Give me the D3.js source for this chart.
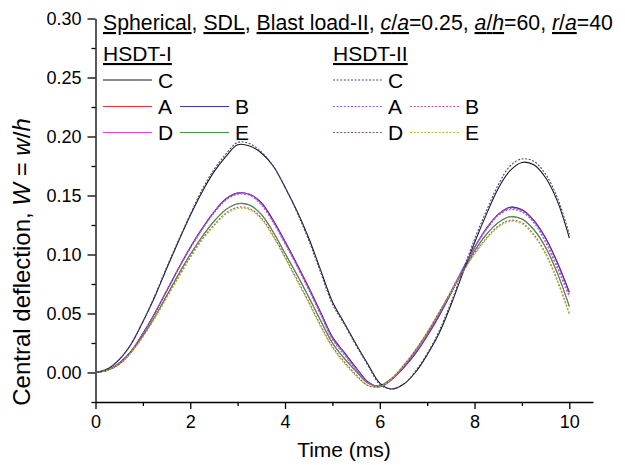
<!DOCTYPE html>
<html><head><meta charset="utf-8">
<script src="https://cdn.jsdelivr.net/npm/d3@7"></script>
<style>
body{margin:0;background:#fff}
svg{display:block}
text{font-family:"Liberation Sans",Arial,sans-serif;fill:#000}
</style></head>
<body><svg id="chart" width="625" height="465"></svg>
<script>
// ---------------- data ----------------
const time = [0,0.25,0.5,0.75,1,1.25,1.5,1.75,2,2.25,2.5,2.75,3,3.25,3.5,3.75,4,4.25,4.5,4.75,5,5.25,5.5,5.75,6,6.25,6.5,6.75,7,7.25,7.5,7.75,8,8.25,8.5,8.75,9,9.25,9.5,9.75,10];

// HSDT-I (solid)
const hsdt1_C = [0,0.003,0.011,0.024,0.043,0.064,0.088,0.111,0.133,0.153,0.170,0.183,0.193,0.192,0.186,0.175,0.157,0.137,0.114,0.087,0.060,0.042,0.024,0.007,-0.009,-0.014,-0.010,0.000,0.015,0.033,0.057,0.084,0.110,0.134,0.156,0.171,0.178,0.176,0.165,0.145,0.114];
const hsdt1_A = [0,0.002,0.008,0.018,0.033,0.050,0.069,0.088,0.106,0.122,0.136,0.147,0.152,0.151,0.144,0.129,0.111,0.092,0.072,0.051,0.030,0.017,0.004,-0.008,-0.012,-0.006,0.004,0.016,0.031,0.048,0.067,0.087,0.106,0.122,0.134,0.140,0.138,0.129,0.114,0.093,0.068];
const hsdt1_B = [0,0.002,0.008,0.018,0.033,0.050,0.069,0.088,0.106,0.122,0.136,0.147,0.152,0.151,0.144,0.129,0.111,0.092,0.072,0.051,0.030,0.017,0.004,-0.008,-0.012,-0.006,0.004,0.016,0.031,0.048,0.067,0.087,0.106,0.122,0.134,0.140,0.138,0.129,0.114,0.093,0.068];
const hsdt1_D = [0,0.002,0.007,0.017,0.031,0.047,0.065,0.083,0.100,0.115,0.128,0.138,0.143,0.142,0.134,0.119,0.101,0.083,0.064,0.044,0.025,0.012,0.001,-0.009,-0.011,-0.005,0.005,0.018,0.033,0.050,0.068,0.086,0.103,0.117,0.127,0.132,0.130,0.121,0.106,0.084,0.056];
const hsdt1_E = [0,0.002,0.007,0.017,0.031,0.047,0.065,0.083,0.100,0.115,0.128,0.138,0.143,0.142,0.134,0.119,0.101,0.083,0.064,0.044,0.025,0.012,0.001,-0.009,-0.011,-0.005,0.005,0.018,0.033,0.050,0.068,0.086,0.103,0.117,0.127,0.132,0.130,0.121,0.106,0.084,0.056];

// HSDT-II (dotted)
const hsdt2_C = [0,0.003,0.011,0.024,0.043,0.065,0.089,0.112,0.134,0.155,0.172,0.185,0.195,0.194,0.187,0.175,0.157,0.136,0.112,0.085,0.058,0.041,0.023,0.006,-0.010,-0.014,-0.010,0.001,0.016,0.035,0.059,0.086,0.113,0.137,0.159,0.175,0.181,0.179,0.168,0.148,0.117];
const hsdt2_A = [0,0.002,0.008,0.018,0.033,0.050,0.069,0.088,0.106,0.122,0.136,0.147,0.152,0.151,0.143,0.128,0.110,0.091,0.071,0.050,0.029,0.016,0.003,-0.008,-0.012,-0.006,0.005,0.017,0.032,0.049,0.068,0.088,0.106,0.122,0.134,0.139,0.137,0.128,0.112,0.090,0.066];
const hsdt2_B = [0,0.002,0.008,0.018,0.033,0.050,0.069,0.088,0.105,0.121,0.135,0.146,0.151,0.150,0.142,0.127,0.109,0.090,0.070,0.049,0.028,0.015,0.002,-0.009,-0.012,-0.006,0.005,0.018,0.033,0.050,0.069,0.088,0.106,0.121,0.133,0.138,0.136,0.127,0.110,0.088,0.064];
const hsdt2_D = [0,0.002,0.007,0.017,0.031,0.046,0.064,0.081,0.098,0.113,0.125,0.135,0.140,0.139,0.131,0.116,0.098,0.079,0.060,0.040,0.022,0.009,-0.002,-0.011,-0.012,-0.005,0.006,0.019,0.034,0.051,0.068,0.085,0.101,0.114,0.124,0.129,0.127,0.117,0.101,0.078,0.050];
const hsdt2_E = [0,0.002,0.007,0.017,0.030,0.046,0.063,0.080,0.097,0.112,0.124,0.134,0.139,0.138,0.130,0.115,0.097,0.078,0.059,0.039,0.021,0.008,-0.003,-0.011,-0.012,-0.005,0.006,0.019,0.034,0.051,0.068,0.085,0.100,0.113,0.123,0.128,0.126,0.116,0.100,0.077,0.049];

const xMajorTicks = [0,2,4,6,8,10];
const xMinorTicks = [1,3,5,7,9];
const yMajorTicks = [0,0.05,0.10,0.15,0.20,0.25,0.30];
const yMinorTicks = [-0.025,0.025,0.075,0.125,0.175,0.225,0.275];

// ---------------- styles ----------------
const style = {
  "I-C": {color:"#1a1a1a", dash:null},
  "I-A": {color:"#ff2a2a", dash:null},
  "I-B": {color:"#3535c8", dash:null},
  "I-D": {color:"#e23ee2", dash:null},
  "I-E": {color:"#3c9a3c", dash:null},
  "II-C": {color:"#44448a", dash:"2,1.6"},
  "II-A": {color:"#9a5cf0", dash:"2,1.6"},
  "II-B": {color:"#c0509c", dash:"2,1.6"},
  "II-D": {color:"#8a5858", dash:"2,1.6"},
  "II-E": {color:"#b8b830", dash:"2,1.6"}
};

const series = [
  {key:"I-A", v:hsdt1_A}, {key:"I-D", v:hsdt1_D},
  {key:"I-B", v:hsdt1_B}, {key:"I-E", v:hsdt1_E}, {key:"I-C", v:hsdt1_C},
  {key:"II-A", v:hsdt2_A}, {key:"II-B", v:hsdt2_B}, {key:"II-D", v:hsdt2_D},
  {key:"II-E", v:hsdt2_E}, {key:"II-C", v:hsdt2_C}
];

// ---------------- chart ----------------
const svg = d3.select("#chart");
const x = d3.scaleLinear().domain([0,10.5]).range([95.5,593]);
const y = d3.scaleLinear().domain([-0.025,0.30]).range([402,18.5]);
const FONT = '"Liberation Sans",Arial,sans-serif';

// axes
svg.append("g").attr("transform","translate(0,402)")
  .call(d3.axisBottom(x).tickValues(xMajorTicks).tickFormat(d3.format("d")).tickSize(7).tickSizeOuter(0).tickPadding(6));
svg.append("g").attr("transform","translate(0,402)")
  .call(d3.axisBottom(x).tickValues(xMinorTicks).tickFormat("").tickSize(4).tickSizeOuter(0))
  .select(".domain").remove();
svg.append("g").attr("transform","translate(95.5,0)")
  .call(d3.axisLeft(y).tickValues(yMajorTicks).tickFormat(d3.format(".2f")).tickSize(8).tickSizeOuter(0).tickPadding(6));
svg.append("g").attr("transform","translate(95.5,0)")
  .call(d3.axisLeft(y).tickValues(yMinorTicks).tickFormat("").tickSize(4).tickSizeOuter(0))
  .select(".domain").remove();
svg.selectAll(".tick text").attr("font-size",18).attr("font-family",FONT).attr("fill","#000");
svg.selectAll(".domain,.tick line").attr("stroke","#000").attr("stroke-width",1.3);

// axis titles
svg.append("text").attr("x",344).attr("y",457).attr("text-anchor","middle")
  .attr("font-size",21).text("Time (ms)");
const yl = svg.append("text").attr("transform","translate(30,262) rotate(-90)")
  .attr("text-anchor","middle").attr("font-size",24);
yl.append("tspan").text("Central deflection, ");
yl.append("tspan").attr("font-style","italic").text("W");
yl.append("tspan").text(" = ");
yl.append("tspan").attr("font-style","italic").text("w");
yl.append("tspan").text("/");
yl.append("tspan").attr("font-style","italic").text("h");

// curves
const line = d3.line().x((d,i)=>x(time[i])).y(d=>y(d)).curve(d3.curveCatmullRom.alpha(0.5));
const plot = svg.append("g");
series.forEach(s=>{
  const st = style[s.key];
  plot.append("path").datum(s.v).attr("d",line)
    .attr("fill","none").attr("stroke",st.color).attr("stroke-width",1.1)
    .attr("stroke-dasharray",st.dash);
});

// title
const titleParts = [
  {t:"Spherical",u:1},{t:", "},{t:"SDL",u:1},{t:", "},{t:"Blast load-II",u:1},{t:", "},
  {t:"c",u:1,i:1},{t:"/",u:1},{t:"a",u:1,i:1},{t:"=0.25"},{t:", "},
  {t:"a",u:1,i:1},{t:"/",u:1},{t:"h",u:1,i:1},{t:"=60"},{t:", "},
  {t:"r",u:1,i:1},{t:"/",u:1},{t:"a",u:1,i:1},{t:"=40"}
];
const tt = svg.append("text").attr("x",103).attr("y",30).attr("font-size",21.25);
titleParts.forEach(p=>{
  const s = tt.append("tspan").text(p.t);
  if(p.u) s.attr("text-decoration","underline");
  if(p.i) s.attr("font-style","italic");
});

// legend
const legendGroups = [
  {label:"HSDT-I", x0:103, prefix:"I"},
  {label:"HSDT-II", x0:333, prefix:"II"}
];
const legendRows = [
  {y:80, items:["C"]},
  {y:106.5, items:["A","B"]},
  {y:132.5, items:["D","E"]}
];
legendGroups.forEach(g=>{
  svg.append("text").attr("x",g.x0).attr("y",61).attr("font-size",21)
    .attr("text-decoration","underline").text(g.label);
  legendRows.forEach(r=>{
    r.items.forEach((name,j)=>{
      const st = style[g.prefix+"-"+name];
      const lx = g.x0 + j*77;
      svg.append("line").attr("x1",lx).attr("x2",lx+49).attr("y1",r.y).attr("y2",r.y)
        .attr("stroke",st.color).attr("stroke-width",1.1).attr("stroke-dasharray",st.dash);
      svg.append("text").attr("x",lx+55).attr("y",r.y+7.5).attr("font-size",21).text(name);
    });
  });
});
</script></body></html>
